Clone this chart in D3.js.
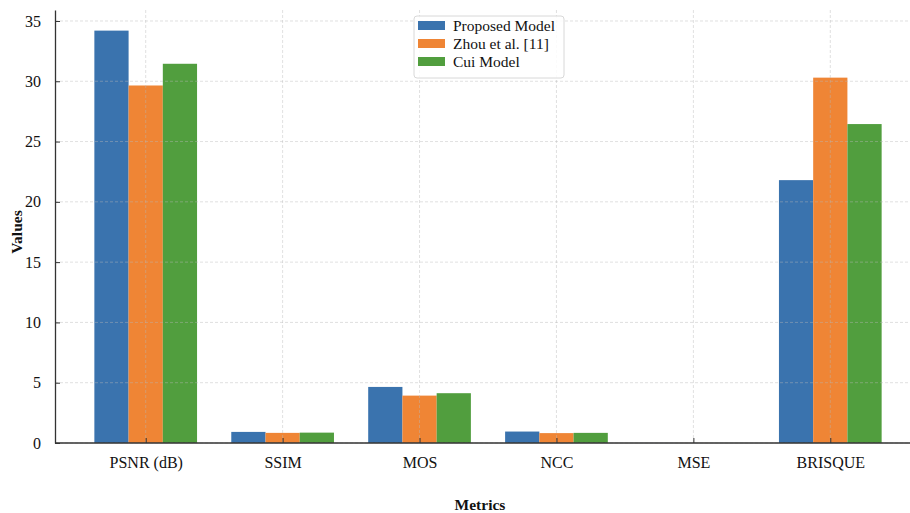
<!DOCTYPE html>
<html>
<head>
<meta charset="utf-8">
<script src="https://cdn.jsdelivr.net/npm/d3@7"></script>
<style>
  html, body { margin: 0; padding: 0; background: #fff; }
  svg { display: block; font-family: "Liberation Serif", "Times New Roman", serif; }
</style>
</head>
<body>
<svg id="chart" width="910" height="513"></svg>
<script>
// Metric categories along the x axis
const categories = ["PSNR (dB)", "SSIM", "MOS", "NCC", "MSE", "BRISQUE"];
// Series names (legend order)
const seriesNames = ["Proposed Model", "Zhou et al. [11]", "Cui Model"];
// Values for each series, one per category
const proposed = [34.2, 0.92, 4.65, 0.95, 0.002, 21.8];
const zhou     = [29.65, 0.84, 3.93, 0.82, 0.004, 30.3];
const cui      = [31.45, 0.86, 4.13, 0.84, 0.003, 26.45];
const yTicks = [0, 5, 10, 15, 20, 25, 30, 35];

const seriesValues = [proposed, zhou, cui];
const colors = ["#3a73ae", "#ef8535", "#519e3e"];

const svg = d3.select("#chart");

// Index-based x scale so bar offsets stay in category units
const x = d3.scaleLinear().domain([-0.6625, 5.6625]).range([55, 921]);
const y = d3.scaleLinear().domain([0, 35.91]).range([443, 10]);
const barW = 0.25;

// Bars
seriesValues.forEach((vals, s) => {
  svg.append("g").selectAll("rect").data(vals).join("rect")
    .attr("x", (d, i) => x(i + (s - 1) * barW - barW / 2))
    .attr("width", x(barW) - x(0))
    .attr("y", d => y(d))
    .attr("height", d => y(0) - y(d))
    .attr("fill", colors[s]);
});

// Dashed grid, drawn over the bars
const grid = svg.append("g").attr("stroke", "#b8b8b8").attr("stroke-opacity", 0.55)
  .attr("stroke-width", 0.8).attr("stroke-dasharray", "3,2");
grid.selectAll("line.h").data(yTicks).join("line")
  .attr("x1", 55).attr("x2", 910)
  .attr("y1", d => y(d)).attr("y2", d => y(d));
grid.selectAll("line.v").data(categories).join("line")
  .attr("x1", (d, i) => x(i)).attr("x2", (d, i) => x(i))
  .attr("y1", 10).attr("y2", 443);

// Axes with inward ticks
const xAxis = d3.axisBottom(x).tickValues(d3.range(categories.length))
  .tickFormat(i => categories[i]).tickSizeInner(-5).tickSizeOuter(0).tickPadding(14);
const gx = svg.append("g").attr("transform", "translate(0,443)").call(xAxis);
gx.select(".domain").attr("d", "M55,0H910").attr("stroke", "#333").attr("stroke-width", 1.3);
gx.selectAll(".tick line").attr("stroke", "#333");
gx.selectAll(".tick text").attr("font-size", 16).attr("fill", "#111")
  .attr("font-family", "Liberation Serif, serif");

const yAxis = d3.axisLeft(y).tickValues(yTicks).tickSizeInner(-5).tickSizeOuter(0).tickPadding(14);
const gy = svg.append("g").attr("transform", "translate(55,0)").call(yAxis);
gy.select(".domain").attr("stroke", "#333").attr("stroke-width", 1.3);
gy.selectAll(".tick line").attr("stroke", "#333");
gy.selectAll(".tick text").attr("font-size", 16).attr("fill", "#111")
  .attr("font-family", "Liberation Serif, serif");

// Axis titles
svg.append("text").attr("x", 480).attr("y", 510).attr("text-anchor", "middle")
  .attr("font-size", 15.5).attr("font-weight", "bold").attr("fill", "#111").text("Metrics");
svg.append("text").attr("transform", "translate(22,232) rotate(-90)").attr("text-anchor", "middle")
  .attr("font-size", 15.5).attr("font-weight", "bold").attr("fill", "#111").text("Values");

// Legend
const lg = svg.append("g").attr("transform", "translate(414,16)");
lg.append("rect").attr("x", 0).attr("y", 0).attr("width", 150).attr("height", 62)
  .attr("rx", 3).attr("fill", "#fff").attr("fill-opacity", 0.85)
  .attr("stroke", "#d8d8d8").attr("stroke-width", 1);
seriesNames.forEach((name, i) => {
  const row = lg.append("g").attr("transform", `translate(4,${5 + i * 18})`);
  row.append("rect").attr("x", 0).attr("y", 0).attr("width", 27).attr("height", 9)
    .attr("fill", colors[i]);
  row.append("text").attr("x", 35).attr("y", 10).attr("font-size", 15.5).attr("fill", "#111")
    .text(name);
});
</script>
</body>
</html>
